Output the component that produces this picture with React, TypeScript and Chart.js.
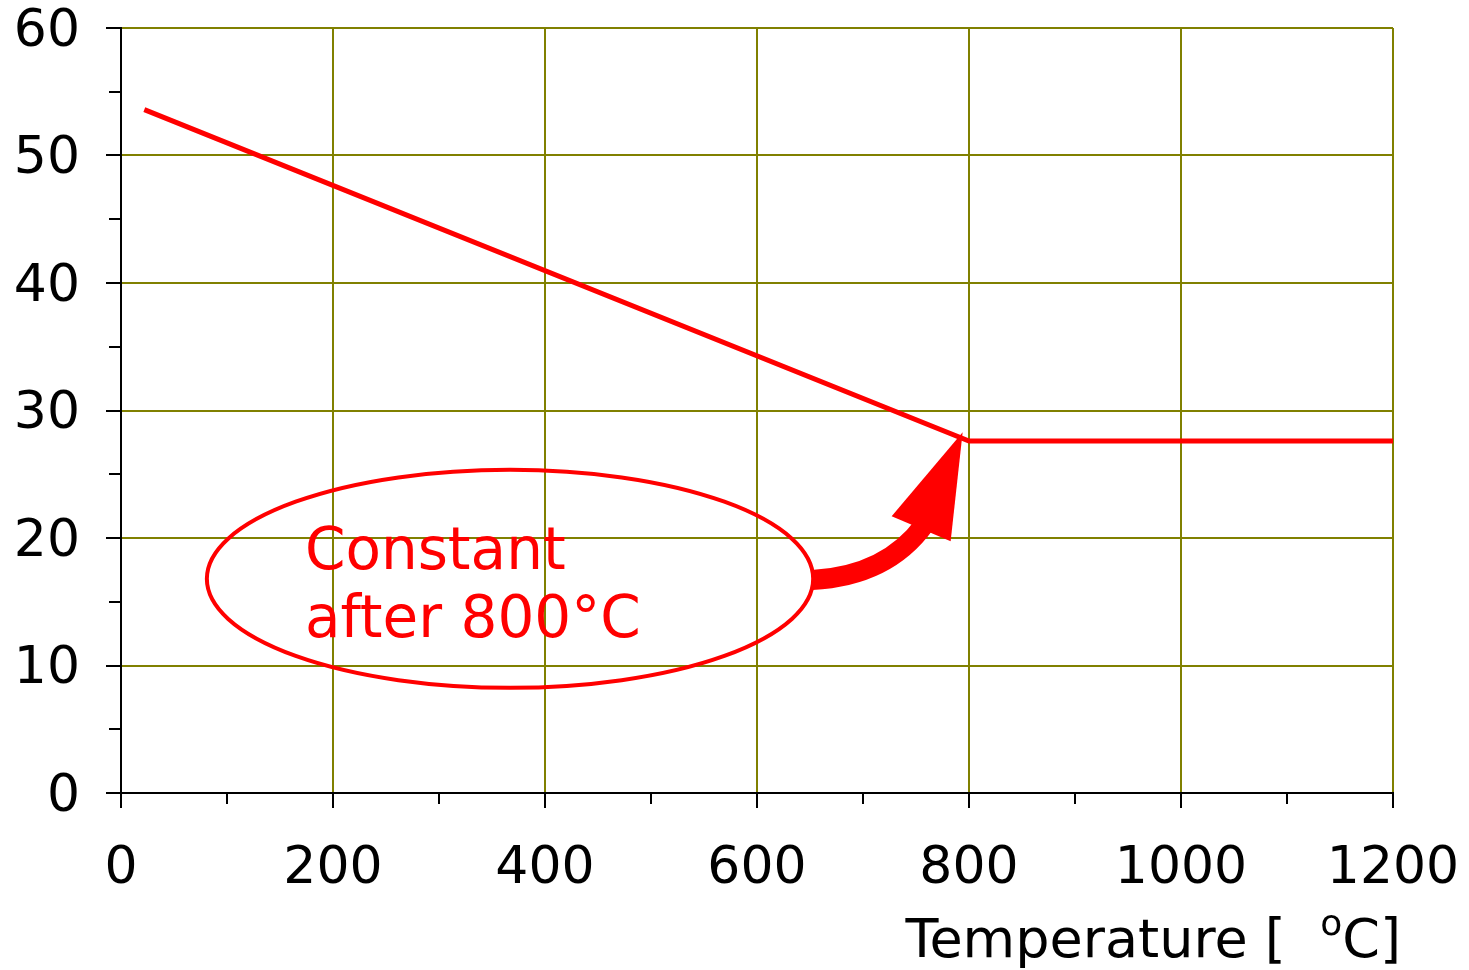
import React, { useEffect, useRef } from "react";
import { Chart, registerables } from "chart.js";

Chart.register(...registerables);

const temperatures = [22, 800, 1200];
const values = [53.6, 27.6, 27.6];
const xTickMax = 1200;
const yTickMax = 60;
const axisTitle = ["Temperature [  ", "o", "C]"];
const noteLines = ["Constant", "after 800°C"];
// annotation anchors in data units
const ellipseCenter = { x: 367, y: 16.8 };
const ellipseRadius = { x: 286, y: 8.55 };
const noteAnchor = { x: 173.5, y1: 17.6, y2: 12.2 };
const arrowTail = { x: 652, y: 16.7 };
const arrowTip = { x: 794, y: 28.3 };

const FONT = "'DejaVu Sans', Verdana, sans-serif";
const OLIVE = "#808000";
const RED = "#ff0000";

const decorPlugin = {
  id: "decor",
  afterDraw(chart: any) {
    const ctx = chart.ctx;
    const xs = chart.scales.x;
    const ys = chart.scales.y;
    const area = chart.chartArea;
    ctx.save();
    // tick marks
    ctx.strokeStyle = "#000";
    ctx.lineWidth = 2;
    for (let v = 0; v <= yTickMax; v += 5) {
      const py = Math.round(ys.getPixelForValue(v));
      const len = v % 10 === 0 ? 15 : 12;
      ctx.beginPath();
      ctx.moveTo(area.left - len, py);
      ctx.lineTo(area.left, py);
      ctx.stroke();
    }
    for (let v = 0; v <= xTickMax; v += 100) {
      const px = Math.round(xs.getPixelForValue(v));
      const len = v % 200 === 0 ? 15 : 11;
      ctx.beginPath();
      ctx.moveTo(px, area.bottom);
      ctx.lineTo(px, area.bottom + len);
      ctx.stroke();
    }
    // axis title with superscript
    ctx.fillStyle = "#000";
    ctx.textBaseline = "alphabetic";
    ctx.textAlign = "left";
    const big = `54px ${FONT}`;
    const small = `36px ${FONT}`;
    ctx.font = big;
    const w1 = ctx.measureText(axisTitle[0]).width;
    const w3 = ctx.measureText(axisTitle[2]).width;
    ctx.font = small;
    const w2 = ctx.measureText(axisTitle[1]).width;
    const right = area.right + 8;
    const base = area.bottom + 164;
    const x0 = right - (w1 + w2 + w3);
    ctx.font = big;
    ctx.fillText(axisTitle[0], x0, base);
    ctx.font = small;
    ctx.fillText(axisTitle[1], x0 + w1, base - 22);
    ctx.font = big;
    ctx.fillText(axisTitle[2], x0 + w1 + w2, base);

    // ellipse
    const cx = xs.getPixelForValue(ellipseCenter.x);
    const cy = ys.getPixelForValue(ellipseCenter.y);
    const rx = xs.getPixelForValue(ellipseCenter.x + ellipseRadius.x) - cx;
    const ry = cy - ys.getPixelForValue(ellipseCenter.y + ellipseRadius.y);
    ctx.strokeStyle = RED;
    ctx.lineWidth = 4;
    ctx.beginPath();
    ctx.ellipse(cx, cy, rx, ry, 0, 0, Math.PI * 2);
    ctx.stroke();

    // note text
    ctx.fillStyle = RED;
    ctx.font = `58px ${FONT}`;
    const tx = xs.getPixelForValue(noteAnchor.x);
    ctx.fillText(noteLines[0], tx, ys.getPixelForValue(noteAnchor.y1));
    ctx.fillText(noteLines[1], tx, ys.getPixelForValue(noteAnchor.y2));

    // curved arrow
    const tailX = xs.getPixelForValue(arrowTail.x);
    const tailY = ys.getPixelForValue(arrowTail.y);
    const tipX = xs.getPixelForValue(arrowTip.x);
    const tipY = ys.getPixelForValue(arrowTip.y);
    const baseX = tipX - 42;
    const baseY = tipY + 96;
    ctx.strokeStyle = RED;
    ctx.lineWidth = 20;
    ctx.lineCap = "butt";
    ctx.beginPath();
    ctx.moveTo(tailX, tailY);
    ctx.quadraticCurveTo(tailX + 75, tailY - 4, baseX + 4, baseY - 4);
    ctx.stroke();
    ctx.fillStyle = RED;
    ctx.beginPath();
    ctx.moveTo(tipX, tipY);
    ctx.lineTo(tipX - 71, tipY + 84);
    ctx.lineTo(tipX - 12, tipY + 109);
    ctx.closePath();
    ctx.fill();
    ctx.restore();
  },
};

export default function App() {
  const ref = useRef<HTMLCanvasElement>(null);
  useEffect(() => {
    if (!ref.current) return;
    const chart = new Chart(ref.current, {
      type: "scatter",
      data: {
        datasets: [
          {
            data: temperatures.map((t, i) => ({ x: t, y: values[i] })),
            showLine: true,
            borderColor: RED,
            backgroundColor: RED,
            borderWidth: 5,
            pointRadius: 0,
          },
        ],
      },
      options: {
        animation: false,
        responsive: false,
        devicePixelRatio: 1,
        layout: { padding: { top: 28, right: 76, left: 0, bottom: 0 } },
        plugins: { legend: { display: false }, tooltip: { enabled: false } },
        scales: {
          x: {
            type: "linear",
            min: 0,
            max: xTickMax,
            afterFit: (s: any) => {
              s.height = 177;
              s.paddingLeft = 0;
              s.paddingRight = 0;
              s.paddingTop = 0;
              s.paddingBottom = 0;
            },
            ticks: {
              stepSize: 200,
              padding: 50,
              color: "#000",
              font: { family: FONT, size: 52, lineHeight: 1 },
              maxRotation: 0,
              callback: (v: any) => String(v),
            },
            grid: { color: OLIVE, lineWidth: 2, drawTicks: false },
            border: { color: "#000", width: 2 },
          },
          y: {
            type: "linear",
            min: 0,
            max: yTickMax,
            afterFit: (s: any) => {
              s.width = 121;
              s.paddingLeft = 0;
              s.paddingRight = 0;
              s.paddingTop = 0;
              s.paddingBottom = 0;
            },
            ticks: {
              stepSize: 10,
              padding: 41,
              labelOffset: 4,
              color: "#000",
              font: { family: FONT, size: 52, lineHeight: 1 },
              callback: (v: any) => String(v),
            },
            grid: { color: OLIVE, lineWidth: 2, drawTicks: false },
            border: { color: "#000", width: 2 },
          },
        },
      },
      plugins: [decorPlugin],
    });
    return () => chart.destroy();
  }, []);
  return (
    <canvas
      ref={ref}
      width={1469}
      height={970}
      style={{ position: "absolute", left: 0, top: 0 }}
    />
  );
}
